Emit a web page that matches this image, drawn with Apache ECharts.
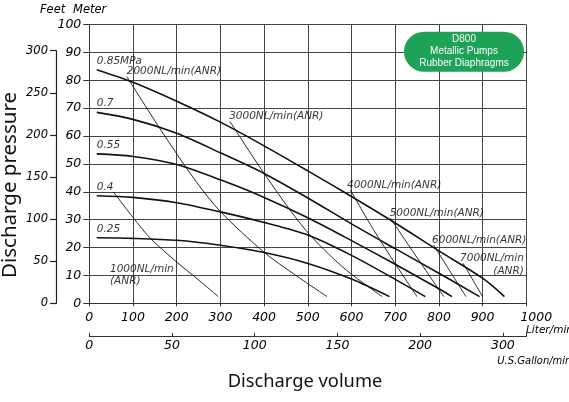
<!DOCTYPE html>
<html><head><meta charset="utf-8">
<script src="https://cdn.jsdelivr.net/npm/echarts@6/dist/echarts.min.js"></script>
<style>html,body{margin:0;padding:0;background:#fff}#c{width:569px;height:402px}</style>
</head><body><div id="c"></div>
<script>
// ---- data (Liter/min, Meter) ----
const literTickLabels = ['0','100','200','300','400','500','600','700','800','900','1000'];
const gallonTickLabels = ['0','50','100','150','200','300'];
const feetTickLabels = ['0','50','100','150','200','250','300'];

const p085 = [[17,83.8],[100,79.3],[200,72.5],[300,65],[400,56.5],[500,47.5],[600,38.3],[700,28.8],[800,18.8],[900,9],[950,2.4]];
const p070 = [[17,68.5],[100,66],[200,61],[300,54],[400,46.6],[500,37.8],[600,28.5],[700,19.6],[800,10.8],[893,2.4]];
const p055 = [[17,53.6],[100,52.7],[200,49.8],[300,44.3],[400,38],[500,30.7],[600,22.5],[700,14],[800,5.2],[830,2.4]];
const p040 = [[17,38.6],[100,38],[200,36.1],[300,32.8],[400,29],[500,24.5],[600,17.2],[700,8.6],[769,2.4]];
const p025 = [[17,23.5],[100,23.3],[200,22.6],[300,20.8],[400,18.2],[500,14.3],[600,8.7],[687,2.4]];

const air1000 = [[55,40],[100,30.8],[140,23.3],[200,14.8],[250,8.4],[295,2.4]];
const air2000 = [[86,81.3],[162,62.6],[242,44.2],[300,32.9],[400,18.3],[470,10.3],[544,2.4]];
const air3000 = [[322,65.2],[400,46.6],[494,26.5],[580,13],[670,2.4]];
const air4000 = [[597,40.7],[650,26.5],[700,14.2],[750,2.4]];
const air5000 = [[689,30.5],[730,21],[770,11.8],[811,2.4]];
const air6000 = [[788,20.9],[825,11.6],[862,2.4]];
const air7000 = [[855,14.4],[878,8.3],[900,2.4]];

// curve labels: [text, liter, meter, side]
const curveLabels = [
  ['0.85MPa',17,86.9,'L'],
  ['2000NL/min(ANR)',85.7,83.4,'L'],
  ['0.7',17,71.8,'L'],
  ['3000NL/min(ANR)',320,67,'L'],
  ['0.55',17,56.8,'L'],
  ['0.4',17,41.8,'L'],
  ['0.25',17,26.7,'L'],
  ['1000NL/min\n(ANR)',47.4,10,'L'],
  ['4000NL/min(ANR)',589.7,42.4,'L'],
  ['5000NL/min(ANR)',687.3,32.3,'L'],
  ['6000NL/min(ANR)',784.4,22.5,'L'],
  ['7000NL/min\n(ANR)',994.3,13.9,'R']
];

const legendLines = ['D800','Metallic Pumps','Rubber Diaphragms'];

// ---- chart ----
const chart = echarts.init(document.getElementById('c'), null, {renderer:'canvas'});
const numFont = {fontFamily:'DejaVu Sans', fontStyle:'italic', color:'#000'};
const gridColor = '#444';

function pLine(name, data){
  return {name, type:'line', data, xAxisIndex:0, yAxisIndex:0, symbol:'none', smooth:0.3,
    lineStyle:{color:'#111', width:1.6}, silent:true, z:3};
}
function aLine(name, data){
  return {name, type:'line', data, xAxisIndex:0, yAxisIndex:0, symbol:'none', smooth:0.3,
    lineStyle:{color:'#111', width:0.9}, silent:true, z:3};
}

const option = {
  animation:false,
  backgroundColor:'#fff',
  grid:[
    {left:89.3, right:42.7, top:24.6, bottom:98.7, containLabel:false},
    {left:56, width:10, top:50.7, height:252.6, containLabel:false}
  ],
  xAxis:[
    {gridIndex:0, type:'value', min:0, max:1000, interval:100,
     axisLine:{show:true, lineStyle:{color:'#333', width:1}},
     axisTick:{show:true, length:3, lineStyle:{color:'#333'}},
     splitLine:{show:true, lineStyle:{color:gridColor, width:1}},
     axisLabel:{...numFont, fontSize:12.5, margin:8,
       formatter:(v)=>{const s = literTickLabels[Math.round(v/100)]||''; return v===1000 ? '{e|'+s+'}' : s;},
       rich:{e:{fontFamily:'DejaVu Sans', fontStyle:'italic', fontSize:12.5, color:'#000', padding:[0,0,0,20]}}}
    },
    {gridIndex:0, type:'value', min:0, max:1000/3.78541, interval:50, position:'bottom', offset:33.4,
     axisLine:{show:true, lineStyle:{color:'#333', width:1}},
     axisTick:{show:true, inside:true, length:4, lineStyle:{color:'#333'}},
     splitLine:{show:false},
     axisLabel:{...numFont, fontSize:12.5, margin:3,
       formatter:(v)=>{const i=v/50; return Number.isInteger(i) ? (gallonTickLabels[i]||'') : '';}}
    },
    {gridIndex:1, type:'value', min:0, max:1, show:false}
  ],
  yAxis:[
    {gridIndex:0, type:'value', min:0, max:100, interval:10,
     axisLine:{show:true, lineStyle:{color:'#333', width:1}},
     axisTick:{show:true, length:6, lineStyle:{color:'#333'}},
     splitLine:{show:true, lineStyle:{color:gridColor, width:1}},
     axisLabel:{...numFont, fontSize:12.5, margin:8}
    },
    {gridIndex:1, type:'value', min:0, max:300, interval:50, position:'left',
     axisLine:{show:true, onZero:false, lineStyle:{color:'#222', width:1.2}},
     axisTick:{show:true, length:6, lineStyle:{color:'#222', width:1.2}},
     splitLine:{show:false},
     axisLabel:{...numFont, fontSize:11.5, margin:8,
       formatter:(v)=>feetTickLabels[Math.round(v/50)]||''}
    }
  ],
  series:[
    pLine('0.85MPa', p085), pLine('0.7', p070), pLine('0.55', p055), pLine('0.4', p040), pLine('0.25', p025),
    aLine('1000NL/min', air1000), aLine('2000NL/min', air2000), aLine('3000NL/min', air3000),
    aLine('4000NL/min', air4000), aLine('5000NL/min', air5000), aLine('6000NL/min', air6000), aLine('7000NL/min', air7000),
    {type:'scatter', xAxisIndex:0, yAxisIndex:0, symbolSize:0, silent:true, z:5,
     data: curveLabels.map(c=>({name:c[0], value:[c[1],c[2]],
       label:{show:true, position: c[3]==='R' ? 'left' : 'right', distance:0,
         formatter:c[0], fontFamily:'DejaVu Sans', fontStyle:'italic', fontSize:10.5, color:'#000', lineHeight:12.5,
         align: c[3]==='R' ? 'right' : 'left'}}))
    }
  ],
  graphic:[
    {type:'text', x:40, y:10, style:{text:'Feet', font:'italic 11.5px "DejaVu Sans"', fill:'#000', align:'left', verticalAlign:'middle'}},
    {type:'text', x:73, y:10, style:{text:'Meter', font:'italic 11.5px "DejaVu Sans"', fill:'#000', align:'left', verticalAlign:'middle'}},
    {type:'text', x:526, y:330.7, style:{text:'Liter/min', font:'italic 10.5px "DejaVu Sans"', fill:'#000', align:'left', verticalAlign:'middle'}},
    {type:'text', x:497.3, y:361.7, style:{text:'U.S.Gallon/min', font:'italic 10px "DejaVu Sans"', fill:'#000', align:'left', verticalAlign:'middle'}},
    {type:'text', x:305, y:382, style:{text:'Discharge volume', font:'18.3px "Noto Sans"', fill:'#111', align:'center', verticalAlign:'middle'}},
    {type:'text', x:10, y:185, rotation:Math.PI/2, style:{text:'Discharge pressure', font:'20.5px "Noto Sans"', fill:'#111', align:'center', verticalAlign:'middle'}},
    {type:'rect', x:404, y:31.7, shape:{width:120, height:40, r:20}, style:{fill:'#1ea258'}, z:10},
    {type:'text', x:464, y:51.7, z:11, style:{text:legendLines.join('\n'), font:'10px "Liberation Sans"', lineHeight:12, fill:'#fff', align:'center', verticalAlign:'middle'}}
  ]
};
chart.setOption(option);
</script>
</body></html>
